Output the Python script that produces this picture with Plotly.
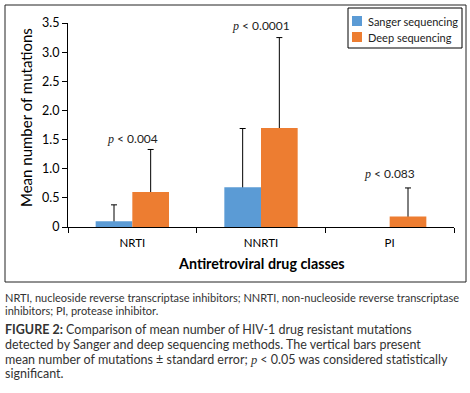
import plotly.graph_objects as go

categories = ["NRTI", "NNRTI", "PI"]
series_names = ["Sanger sequencing", "Deep sequencing"]
sanger_mean = [0.10, 0.68, 0.0]
sanger_se = [0.28, 1.01, None]
deep_mean = [0.60, 1.70, 0.18]
deep_se = [0.73, 1.55, 0.49]
colors = ["#5B9BD5", "#ED7D31"]
p_values = ["0.004", "0.0001", "0.083"]
p_heights = [1.52, 3.46, 0.92]
ytick_vals = [0, 0.5, 1.0, 1.5, 2.0, 2.5, 3.0, 3.5]
ytick_text = ["0", "0.5", "1.0", "1.5", "2.0", "2.5", "3.0", "3.5"]

FONT = "Lato"
SERIF = "Liberation Serif"
W, H = 470, 393
L, R, T, B = 68, 16, 23, 166
pw, ph = W - L - R, H - T - B


def px(x):
    return (x - L) / pw


def py(y):
    return (H - B - y) / ph


fig = go.Figure()
means = [sanger_mean, deep_mean]
ses = [sanger_se, deep_se]
groups = ["s", "d"]

# error-bar carrier traces (drawn first, so the real bars hide the lower cap)
for m, s, g in zip(means, ses, groups):
    ym = [v if e is not None else None for v, e in zip(m, s)]
    fig.add_trace(go.Bar(
        x=categories, y=ym, offsetgroup=g, showlegend=False,
        marker=dict(color="rgba(0,0,0,0)", line=dict(width=0)),
        hoverinfo="skip",
        error_y=dict(type="data", symmetric=False,
                     array=[e if e is not None else 0 for e in s],
                     arrayminus=[0.06] * len(s), color="black",
                     thickness=1, width=3),
    ))

for m, g, n, c in zip(means, groups, series_names, colors):
    fig.add_trace(go.Bar(
        x=categories, y=m, offsetgroup=g, name=n, showlegend=False,
        marker=dict(color=c, line=dict(width=0)),
    ))

for c, t, h in zip(categories, p_values, p_heights):
    fig.add_annotation(
        x=c, y=h, xref="x", yref="y", showarrow=False,
        xanchor="center", yanchor="middle",
        text=f"<span style='font-family:{SERIF}'><i>p</i></span> < {t}",
        font=dict(family=FONT, size=12, color="#222222"))

# axis titles
fig.add_annotation(x=px(26), y=py(118), xref="paper", yref="paper",
                   xanchor="center", yanchor="middle",
                   text="Mean number of mutations", textangle=-90,
                   showarrow=False,
                   font=dict(family=FONT, size=15, color="black"))
fig.add_annotation(x=px(261), y=py(263), xref="paper", yref="paper",
                   xanchor="center", yanchor="middle",
                   text="<b>Antiretroviral drug classes</b>",
                   showarrow=False,
                   font=dict(family=FONT, size=14.3, color="black"))

# frame
fig.add_shape(type="rect", xref="paper", yref="paper",
              x0=px(5), x1=px(466), y0=py(282), y1=py(5),
              line=dict(color="#222222", width=1))

# custom legend
fig.add_shape(type="rect", xref="paper", yref="paper",
              x0=px(348), x1=px(462), y0=py(48), y1=py(8),
              line=dict(color="black", width=1), fillcolor="white")
for i, (n, c) in enumerate(zip(series_names, colors)):
    yc = 21 + 16 * i
    fig.add_shape(type="rect", xref="paper", yref="paper",
                  x0=px(352), x1=px(362), y0=py(yc + 5), y1=py(yc - 5),
                  line=dict(width=0), fillcolor=c)
    fig.add_annotation(x=px(366), y=py(yc), xref="paper", yref="paper",
                       xanchor="left", yanchor="middle", text=n,
                       showarrow=False,
                       font=dict(family=FONT, size=11, color="#222222"))

# footnote & caption
foot = [
    "NRTI, nucleoside reverse transcriptase inhibitors; NNRTI, non-nucleoside reverse transcriptase",
    "inhibitors; PI, protease inhibitor.",
]
for i, line in enumerate(foot):
    fig.add_annotation(x=px(4), y=py(297 + 13.5 * i), xref="paper", yref="paper",
                       xanchor="left", yanchor="middle", text=line,
                       showarrow=False, borderpad=0,
                       font=dict(family=FONT, size=11, color="#333333"))
cap = [
    "<b>FIGURE 2:</b> Comparison of mean number of HIV-1 drug resistant mutations",
    "detected by Sanger and deep sequencing methods. The vertical bars present",
    f"mean number of mutations ± standard error; <span style='font-family:{SERIF}'><i>p</i></span> < 0.05 was considered statistically",
    "significant.",
]
for i, line in enumerate(cap):
    fig.add_annotation(x=px(4), y=py(329.5 + 14.8 * i), xref="paper", yref="paper",
                       xanchor="left", yanchor="middle", text=line,
                       showarrow=False, borderpad=0,
                       font=dict(family=FONT, size=12.5, color="#333333"))

fig.update_layout(
    width=W, height=H,
    margin=dict(l=L, r=R, t=T, b=B, autoexpand=False),
    paper_bgcolor="white", plot_bgcolor="white",
    barmode="group", bargap=0.43, bargroupgap=0,
    font=dict(family=FONT, size=11, color="black"),
    showlegend=False,
)
fig.update_xaxes(showline=True, linecolor="black", linewidth=1,
                 ticks="outside", tickson="boundaries", ticklen=5,
                 tickcolor="black", showgrid=False, ticklabelstandoff=5,
                 tickfont=dict(family=FONT, size=11.5, color="black"))
fig.update_yaxes(range=[0, 3.5], tickvals=ytick_vals, ticktext=ytick_text,
                 showline=True, linecolor="black", linewidth=1,
                 ticks="outside", ticklen=5, tickcolor="black",
                 showgrid=False, zeroline=False,
                 tickfont=dict(family=FONT, size=12.5, color="black"))

fig.write_html("out.html", config={"displayModeBar": False},
               post_script="document.body.style.margin='0';")
